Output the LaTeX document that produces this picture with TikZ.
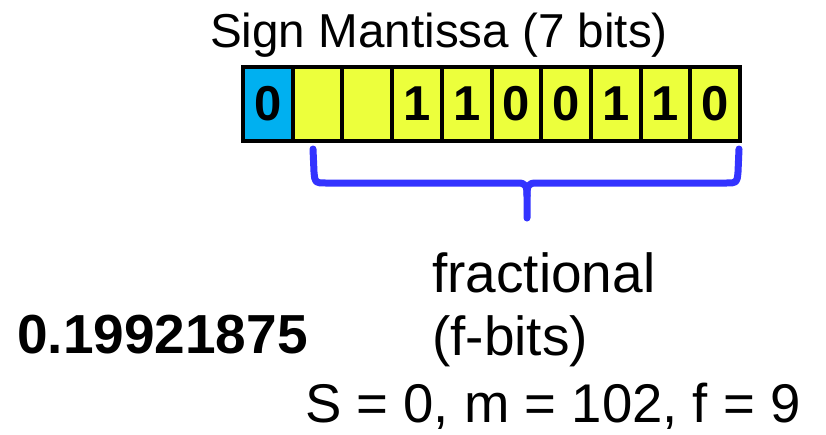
\documentclass[tikz,border=0pt]{standalone}
\usepackage{fontspec}
\setmainfont{Liberation Sans}
\definecolor{signblue}{RGB}{0,176,240}
\definecolor{mantyellow}{RGB}{236,255,60}
\definecolor{braceblue}{RGB}{51,51,255}
\begin{document}
\begin{tikzpicture}[x=1pt,y=-1pt,
  cell/.style={draw=black,line width=4pt,minimum width=49.7pt,minimum height=74pt,inner sep=0pt,
    font=\fontsize{49}{49}\selectfont\bfseries,anchor=center},
  label/.style={inner sep=0pt,anchor=base west},
  bracestyle/.style={draw=braceblue,line width=7pt,line cap=round,line join=round}]
\useasboundingbox (0,0) rectangle (826,434);
\node[label,font=\fontsize{47.6}{47.6}\selectfont] (title) at (210,47) {Sign Mantissa (7 bits)};
\foreach \i/\d in {0/0,1/,2/,3/1,4/1,5/0,6/0,7/1,8/1,9/0}{
  \ifnum\i=0
    \node[cell,fill=signblue] (c\i) at ({267.85+49.7*\i},104) {\d};
  \else
    \node[cell,fill=mantyellow] (c\i) at ({267.85+49.7*\i},104) {\d};
  \fi
}
\coordinate (bl) at (313,149);
\coordinate (br) at (739,149);
\coordinate (bt) at (527,218);
\draw[bracestyle] (bl) -- (314,172) .. controls (315,183) .. (326,183) -- (518,183)
   .. controls (526,183) and (527,186) .. (527,196) -- (bt);
\draw[bracestyle] (br) -- (738,172) .. controls (737,183) .. (726,183) -- (536,183)
   .. controls (528,183) and (527,186) .. (527,196);
\node[label,font=\fontsize{55}{55}\selectfont] (frac) at (432,292) {fractional};
\node[label,font=\fontsize{55}{55}\selectfont] (fbits) at (432,355) {(f-bits)};
\node[label,font=\fontsize{55}{55}\selectfont\bfseries] (num) at (17,353) {0.19921875};
\node[label,font=\fontsize{54.5}{54.5}\selectfont] (eq) at (305,422) {S = 0, m = 102, f = 9};
\end{tikzpicture}
\end{document}
